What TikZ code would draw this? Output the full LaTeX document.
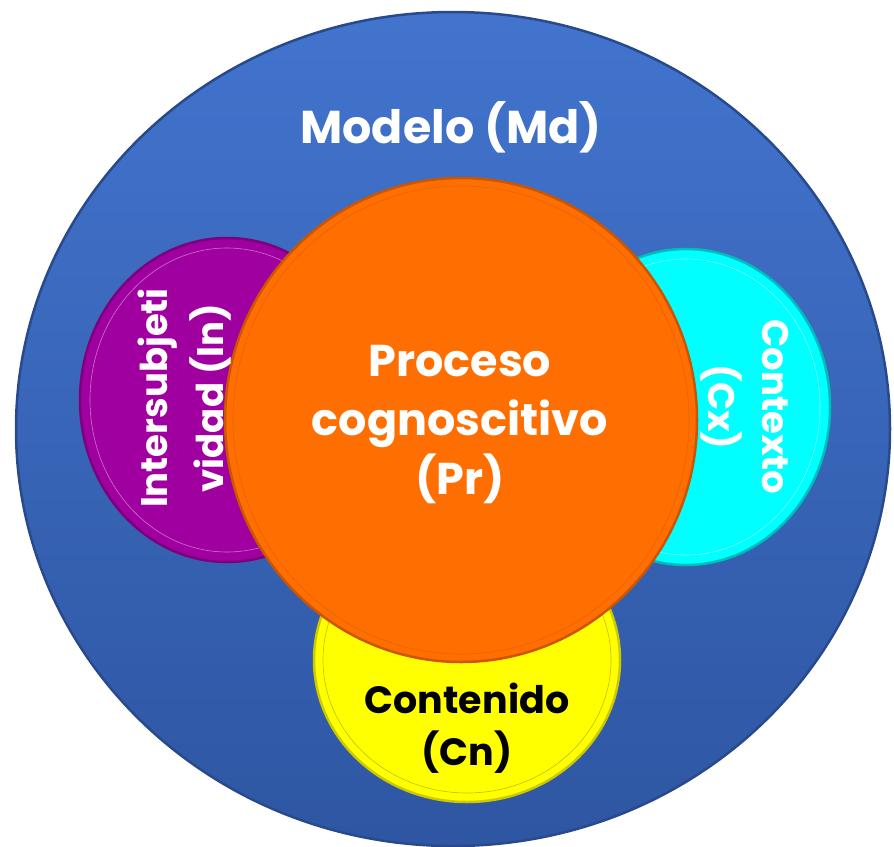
\documentclass[tikz,border=0pt]{standalone}
\usepackage{fontspec}
\setmainfont{Poppins}
\usetikzlibrary{shapes.geometric}
\definecolor{mdtop}{RGB}{66,116,206}
\definecolor{mdbot}{RGB}{46,86,162}
\definecolor{mdrim}{RGB}{40,74,140}
\definecolor{inpurple}{RGB}{160,0,160}
\definecolor{inrim}{RGB}{125,0,125}
\definecolor{prorange}{RGB}{255,110,0}
\definecolor{prrim}{RGB}{205,85,0}
\definecolor{cxcyan}{RGB}{0,255,255}
\definecolor{cxrim}{RGB}{0,190,190}
\definecolor{cnyellow}{RGB}{255,255,0}
\definecolor{cnrim}{RGB}{205,200,0}

\tikzset{
  disc/.style={ellipse, inner sep=0pt, line width=2.5pt},
  ring/.style={line width=0.6pt, white, opacity=0.45},
  labeltext/.style={font=\bfseries\fontsize{40}{56}\selectfont, align=center, text=white, inner sep=0pt},
}

\begin{document}
\begin{tikzpicture}[x=1pt, y=-1pt]
\useasboundingbox (0,0) rectangle (894,846);

% Modelo
\node[disc, draw=mdrim, top color=mdtop, bottom color=mdbot, minimum width=874pt, minimum height=834pt] (Md) at (453,429) {};
\node[labeltext, font=\bfseries\fontsize{46}{56}\selectfont] (MdText) at (451,127) {Modelo (Md)};

% Intersubjetividad and Contexto
\node[disc, draw=inrim, fill=inpurple, minimum width=294pt, minimum height=324pt] (In) at (227,400) {};
\draw[ring] (In.center) ellipse [x radius=137, y radius=152];
\node[disc, draw=cxrim, fill=cxcyan, minimum width=288pt, minimum height=316pt] (Cx) at (686,407) {};
\draw[ring] (Cx.center) ellipse [x radius=134, y radius=148];

% Contenido
\node[disc, draw=cnrim, fill=cnyellow, minimum width=306pt, minimum height=284pt] (Cn) at (467,660) {};
\draw[ring, black, opacity=0.25] (Cn.center) ellipse [x radius=144, y radius=133];

% Proceso cognoscitivo
\node[disc, draw=prrim, fill=prorange, minimum width=472pt, minimum height=484pt] (Pr) at (461,420) {};
\draw[ring, prrim] (Pr.center) ellipse [x radius=228, y radius=234];

% labels
\node[labeltext, font=\bfseries\fontsize{44.5}{59}\selectfont] (PrText) at (460,425) {Proceso\\cognoscitivo\\(Pr)};
\node[labeltext, rotate=90, font=\bfseries\fontsize{37}{56}\selectfont] (InText) at (185,398) {Intersubjeti\\vidad (In)};
\node[labeltext, rotate=-90, font=\bfseries\fontsize{37}{54}\selectfont] (CxText) at (745,407) {Contexto\\(Cx)};
\node[labeltext, text=black, font=\bfseries\fontsize{38}{52}\selectfont] (CnText) at (467,728) {Contenido\\(Cn)};
\end{tikzpicture}
\end{document}
